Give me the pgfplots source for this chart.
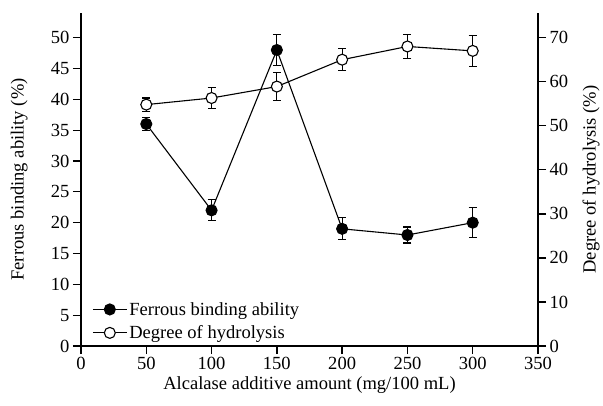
\documentclass[border=0pt]{standalone}
\usepackage{fontspec}
\setmainfont{Liberation Serif}
\usepackage{pgfplots}
\usepackage{pgfplotstable}
\pgfplotsset{compat=1.18}
\pgfplotstableread{
x y e
50 36 1.0
100 22 1.7
150 48 2.5
200 19 1.8
250 18 1.3
300 20 2.4
}\ferrous
\pgfplotstableread{
x y e
50 54.8 1.5
100 56.3 2.3
150 58.9 3.1
200 65.0 2.5
250 68.0 2.8
300 67.0 3.5
}\dh
\pgfplotsset{
  common/.style={
    scale only axis, width=457bp, height=333bp,
    xmin=0, xmax=350, ymin=0,
    /pgf/number format/assume math mode=true,
    major tick length=8bp,
    every tick/.style={line width=1.3bp, black},
    tick label style={black},
    axis line style={line width=1.3bp, black, -},
  },
  fstyle/.style={black, line width=1.1bp, mark=*, mark size=5.5bp, mark options={fill=black, draw=black, solid}},
  dstyle/.style={black, line width=1.1bp, mark=*, mark size=5.5bp, mark options={fill=white, draw=black, line width=1.1bp, solid}},
  ebars/.style={error bars/.cd, y dir=both, y explicit,
    error bar style={line width=1.1bp, black},
    error mark options={rotate=90, mark size=4bp, line width=1.1bp, black}},
}
\begin{document}
\begin{tikzpicture}[font=\fontsize{18.6}{22}\selectfont]
\begin{axis}[common, name=ax,
  axis y line*=left, axis x line*=bottom,
  x axis line style={-}, y axis line style={-},
  xtick align=outside, ytick align=outside,
  ymax=54,
  xtick={0,50,...,350}, ytick={0,5,...,50},
  ylabel={Ferrous binding ability (\%)},
  xlabel={Alcalase additive amount (mg/100 mL)},
  ylabel style={at={(axis description cs:-0.135,0.5)}, anchor=center},
  xlabel style={at={(axis description cs:0.5,-0.117)}, anchor=center},
]
\addplot[fstyle, ebars] table[x=x, y=y, y error=e] {\ferrous};
\end{axis}
\begin{axis}[common,
  axis y line*=right, axis x line=none,
  y axis line style={-},
  ytick align=outside,
  ymax=75.6,
  ytick={0,10,...,70},
  ylabel={Degree of hydrolysis (\%)},
  ylabel style={at={(axis description cs:1.116,0.5)}, anchor=center},
  legend style={draw=none, fill=none, at={(axis description cs:0.022,0.008)}, anchor=south west,
    row sep=5bp, inner sep=1bp, cells={anchor=west}},
  legend image code/.code={\draw[mark repeat=2, mark phase=2, line width=1.1bp] plot coordinates {(0bp,0bp) (17bp,0bp) (34bp,0bp)};},
]
\addlegendimage{fstyle}
\addlegendentry{Ferrous binding ability}
\addplot[dstyle, ebars] table[x=x, y=y, y error=e] {\dh};
\addlegendentry{Degree of hydrolysis}
\end{axis}
\path[use as bounding box] ([shift={(-81bp,-60bp)}]ax.south west) rectangle ([shift={(65bp,13bp)}]ax.north east);
\end{tikzpicture}
\end{document}
